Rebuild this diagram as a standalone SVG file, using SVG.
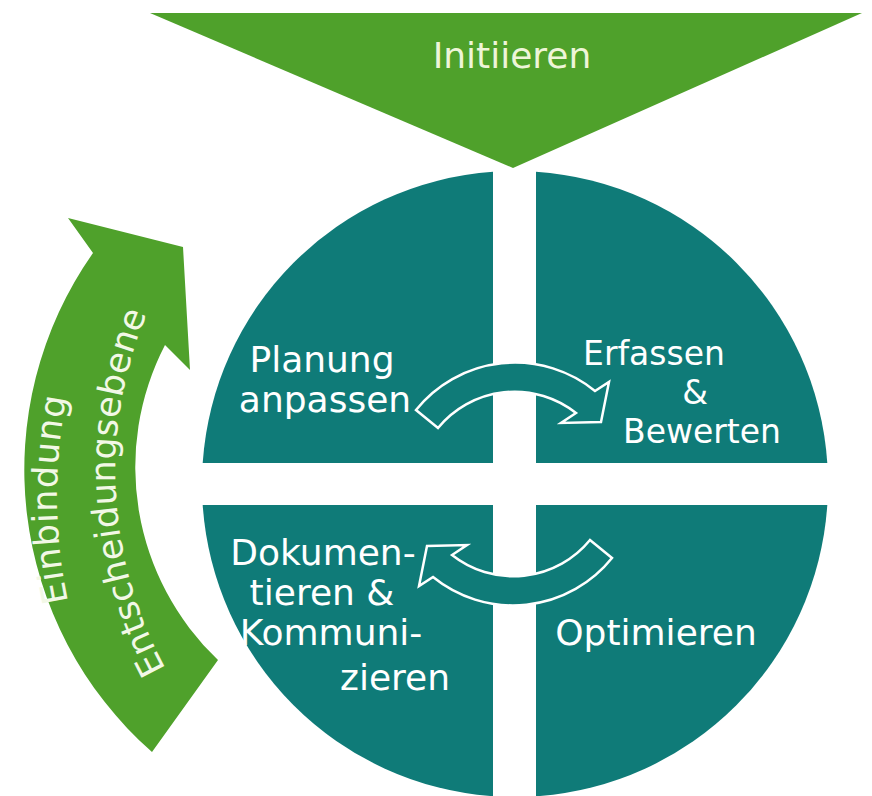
<svg xmlns="http://www.w3.org/2000/svg" width="872" height="796" viewBox="0 0 872 796">
  <style>
    .quad { fill: #0f7b78; }
    .green { fill: #4fa12b; }
    .turn { fill: #0f7b78; stroke: #ffffff; stroke-width: 2.5; stroke-linejoin: miter; }
    .lbl { font-family: "DejaVu Sans", Verdana, sans-serif; font-size: 36px; fill: #ffffff; text-anchor: middle; }
    .tight { font-size: 33px; }
    .head { font-family: "DejaVu Sans", Verdana, sans-serif; font-size: 36px; fill: #eef5d8; text-anchor: middle; }
    .side { font-family: "DejaVu Sans", Verdana, sans-serif; font-size: 35px; fill: #f2f8e6; }
  </style>
  <defs>
    <path id="arcOuterText" d="M 68,602 Q 46,496 68,390"/>
    <path id="arcInnerText" d="M 166,669 A 410 410 0 0 1 152,302"/>
    <path id="turnArrow" d="M 416,410 A 127 127 0 0 1 595,391 L 609,382 L 601,422 L 561,423 L 576,413 A 99 99 0 0 0 438,428 Z"/>
  </defs>
  <rect width="872" height="796" fill="#ffffff"/>

  <!-- Start funnel -->
  <g id="initiieren">
    <polygon class="green" points="150,13 862,13 513,168"/>
    <text class="head" x="512" y="68">Initiieren</text>
  </g>

  <!-- Four quarter segments of the cycle -->
  <g id="planung">
    <path class="quad" d="M 493,463 L 493,171.8 A 313 313 0 0 0 202.7,463 Z"/>
    <text class="lbl"><tspan x="322" y="372">Planung</tspan><tspan x="325" y="412">anpassen</tspan></text>
  </g>
  <g id="erfassen">
    <path class="quad" d="M 536,463 L 536,171.7 A 313 313 0 0 1 827.3,463 Z"/>
    <text class="lbl tight"><tspan x="654" y="365">Erfassen</tspan><tspan x="695" y="404">&amp;</tspan><tspan x="702" y="443">Bewerten</tspan></text>
  </g>
  <g id="optimieren">
    <path class="quad" d="M 536,505 L 827.3,505 A 313 313 0 0 1 536,796.3 Z"/>
    <text class="lbl" x="656" y="645">Optimieren</text>
  </g>
  <g id="dokumentieren">
    <path class="quad" d="M 493,505 L 493,796.2 A 313 313 0 0 1 202.7,505 Z"/>
    <text class="lbl"><tspan x="323" y="565">Dokumen-</tspan><tspan x="322" y="605">tieren &amp;</tspan><tspan x="331" y="645">Kommuni-</tspan><tspan x="395" y="690">zieren</tspan></text>
  </g>

  <!-- Side arrow: involving the decision level -->
  <g id="einbindung">
    <path class="green" d="M 152,752 A 376 376 0 0 1 93,253 L 68,218 L 183,247 L 190,370 L 165,345 A 266 266 0 0 0 218,660 Z"/>
    <text class="side"><textPath href="#arcOuterText" textLength="206" lengthAdjust="spacing">Einbindung</textPath></text>
    <text class="side"><textPath href="#arcInnerText" textLength="368" lengthAdjust="spacing">Entscheidungsebene</textPath></text>
  </g>

  <!-- Turning arrows between the segments -->
  <g id="connectors">
    <use href="#turnArrow" class="turn"/>
    <use href="#turnArrow" class="turn" transform="rotate(180 514 484)"/>
  </g>
</svg>
